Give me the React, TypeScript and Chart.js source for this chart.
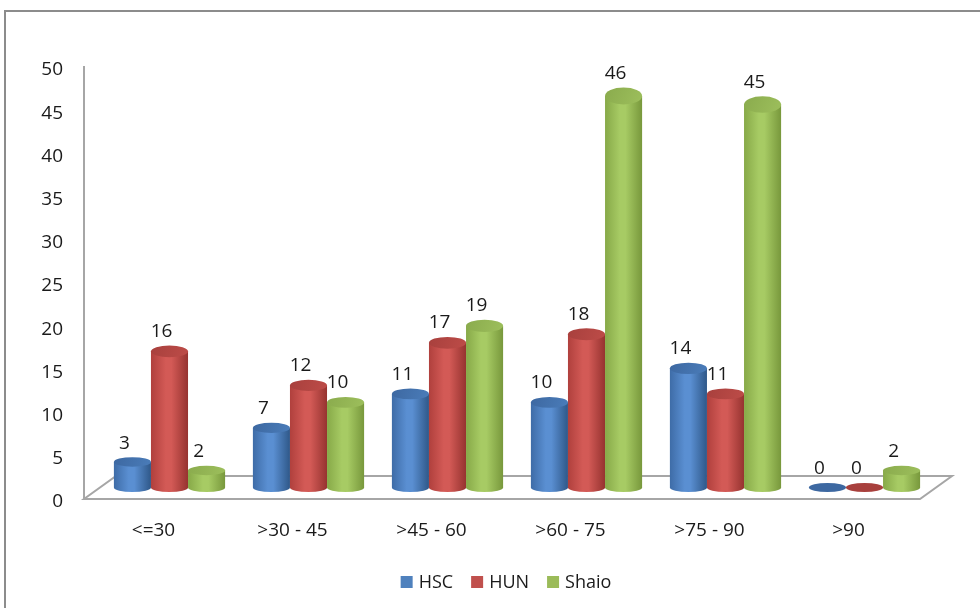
import React, { useEffect, useRef } from "react";
import { Chart, registerables } from "chart.js";

Chart.register(...registerables);

const CATEGORIES = ["<=30", ">30 - 45", ">45 - 60", ">60 - 75", ">75 - 90", ">90"];
const SERIES_NAMES = ["HSC", "HUN", "Shaio"];
const HSC = [3, 7, 11, 10, 14, 0];
const HUN = [16, 12, 17, 18, 11, 0];
const SHAIO = [2, 10, 19, 46, 45, 2];
const Y_MIN = 0;
const Y_MAX = 50;
const Y_STEP = 5;

const BASE_COLORS = ["#4F81BD", "#C0504D", "#9BBB59"];
// side shading (left, highlight, right) and cap colour per series
const SHADES = [
  { left: "#3e6ca7", mid: "#5a8fd2", right: "#2f5889", cap: "#3d68a1", capHi: "#4a7cb9" },
  { left: "#b0403d", mid: "#d35a56", right: "#963330", cap: "#a8403d", capHi: "#bd4c48" },
  { left: "#87a948", mid: "#a7cb64", right: "#78983c", cap: "#8aab4d", capHi: "#9dbf5c" },
];

const FONT = '"Open Sans", "DejaVu Sans", sans-serif';
const TEXT = "#1a1a1a";
const DEPTH_X = 32;
const DEPTH_Y = -23;

function drawCylinder(ctx: CanvasRenderingContext2D, cx: number, rx: number, baseY: number, topY: number, s: any) {
  const ryBase = 4.5;
  const h = baseY - topY;
  if (h < 0.5) {
    ctx.fillStyle = s.cap;
    ctx.beginPath();
    ctx.ellipse(cx, baseY, rx, ryBase, 0, 0, Math.PI * 2);
    ctx.fill();
    return;
  }
  const ryTop = 4.5 + (4 * h) / 400;
  const g = ctx.createLinearGradient(cx - rx, 0, cx + rx, 0);
  g.addColorStop(0, s.left);
  g.addColorStop(0.4, s.mid);
  g.addColorStop(0.55, s.mid);
  g.addColorStop(1, s.right);
  ctx.fillStyle = g;
  ctx.beginPath();
  ctx.moveTo(cx - rx, topY);
  ctx.lineTo(cx - rx, baseY);
  ctx.ellipse(cx, baseY, rx, ryBase, 0, Math.PI, 0, true);
  ctx.lineTo(cx + rx, topY);
  ctx.closePath();
  ctx.fill();

  const cg = ctx.createLinearGradient(cx - rx, topY - ryTop, cx + rx, topY + ryTop);
  cg.addColorStop(0, s.cap);
  cg.addColorStop(1, s.capHi);
  ctx.fillStyle = cg;
  ctx.beginPath();
  ctx.ellipse(cx, topY, rx, ryTop, 0, 0, Math.PI * 2);
  ctx.fill();
}

const cylinderPlugin = {
  id: "cylinders",
  beforeDatasetsDraw(chart: any) {
    const { ctx, chartArea: a } = chart;
    ctx.save();
    // floor
    ctx.strokeStyle = "#a6a6a6";
    ctx.lineWidth = 2;
    const fx0 = a.left;
    const fx1 = a.right + 2;
    const fy = a.bottom;
    ctx.beginPath();
    ctx.moveTo(fx0, fy);
    ctx.lineTo(fx1, fy);
    ctx.lineTo(fx1 + DEPTH_X, fy + DEPTH_Y);
    ctx.lineTo(fx0 + DEPTH_X, fy + DEPTH_Y);
    ctx.closePath();
    ctx.stroke();

    const labels: { x: number; y: number; t: string }[] = [];
    const nCat = chart.data.labels.length;
    for (let i = 0; i < nCat; i++) {
      chart.data.datasets.forEach((ds: any, d: number) => {
        const el = chart.getDatasetMeta(d).data[i];
        if (!el) return;
        const cx = el.x + DEPTH_X / 2;
        const rx = el.width / 2;
        const baseY = el.base + DEPTH_Y / 2;
        const topY = baseY - (el.base - el.y) * 0.985;
        drawCylinder(ctx, cx, rx, baseY, topY, SHADES[d]);
        const h = baseY - topY;
        const ry = h < 0.5 ? 4.5 : 4.5 + (4 * h) / 400;
        labels.push({ x: cx - 8, y: topY - ry - 14, t: String(ds.data[i]) });
      });
    }
    ctx.fillStyle = TEXT;
    ctx.font = `19px ${FONT}`;
    ctx.textAlign = "center";
    ctx.textBaseline = "middle";
    labels.forEach((l) => ctx.fillText(l.t, l.x, l.y));
    ctx.restore();
    return false;
  },
  afterDraw(chart: any) {
    const { ctx, chartArea: a, width, height } = chart;
    ctx.save();
    // outer frame
    ctx.strokeStyle = "#8c8c8c";
    ctx.lineWidth = 2;
    ctx.beginPath();
    ctx.moveTo(5, height + 2);
    ctx.lineTo(5, 11);
    ctx.lineTo(width + 2, 11);
    ctx.stroke();

    // legend
    ctx.font = `18px ${FONT}`;
    ctx.textBaseline = "middle";
    ctx.textAlign = "left";
    const box = 12;
    const gapText = 6;
    const gapItem = 18;
    const items = chart.data.datasets.map((ds: any) => ({
      label: ds.label,
      color: ds.backgroundColor,
      w: ctx.measureText(ds.label).width,
    }));
    const total =
      items.reduce((s: number, it: any) => s + box + gapText + it.w, 0) + gapItem * (items.length - 1);
    let x = (a.left + a.right) / 2 + 5 - total / 2;
    const y = 582;
    items.forEach((it: any) => {
      ctx.fillStyle = it.color;
      ctx.fillRect(x, y - box / 2, box, box);
      x += box + gapText;
      ctx.fillStyle = TEXT;
      ctx.fillText(it.label, x, y + 1);
      x += it.w + gapItem;
    });
    ctx.restore();
  },
};

export default function App() {
  const ref = useRef<HTMLCanvasElement>(null);
  useEffect(() => {
    if (!ref.current) return;
    const values = [HSC, HUN, SHAIO];
    const chart = new Chart(ref.current, {
      type: "bar",
      data: {
        labels: CATEGORIES,
        datasets: SERIES_NAMES.map((name, i) => ({
          label: name,
          data: values[i],
          backgroundColor: BASE_COLORS[i],
          categoryPercentage: 0.8,
          barPercentage: 1.0,
        })),
      },
      options: {
        responsive: false,
        animation: false,
        devicePixelRatio: 1,
        layout: { padding: { left: 6, right: 62, top: 67, bottom: 49 } },
        plugins: { legend: { display: false }, tooltip: { enabled: false } },
        scales: {
          x: {
            grid: { display: false, drawTicks: false },
            border: { display: false },
            ticks: {
              font: { family: FONT, size: 19 },
              color: TEXT,
              padding: 20,
              maxRotation: 0,
              autoSkip: false,
            },
            afterFit: (s: any) => {
              s.height = 60;
            },
          },
          y: {
            min: Y_MIN,
            max: Y_MAX,
            grid: { display: false, drawTicks: false },
            border: { display: true, color: "#a6a6a6", width: 2 },
            ticks: {
              stepSize: Y_STEP,
              font: { family: FONT, size: 19 },
              color: TEXT,
              padding: 21,
              labelOffset: 3,
            },
            afterFit: (s: any) => {
              s.width = 78;
            },
          },
        },
      } as any,
      plugins: [cylinderPlugin],
    });
    return () => chart.destroy();
  }, []);

  return (
    <div style={{ position: "fixed", left: 0, top: 0, width: 980, height: 608, background: "#ffffff" }}>
      <canvas ref={ref} width={980} height={608} style={{ display: "block" }} />
    </div>
  );
}
